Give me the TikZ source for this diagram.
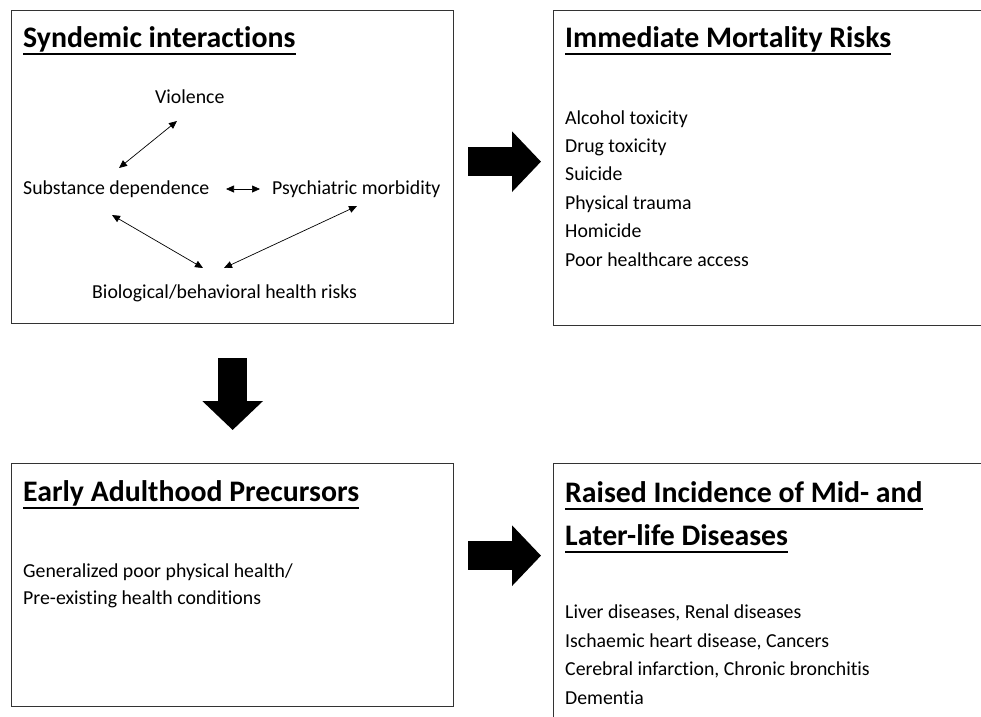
\documentclass[tikz,border=0pt]{standalone}
\usepackage{fontspec}
\setmainfont{Carlito}[Ligatures=NoCommon]
\usetikzlibrary{arrows.meta,positioning}

\begin{document}
\begin{tikzpicture}[x=1pt, y=-1pt,
    panel/.style={draw=black!80, line width=1.3pt, inner sep=0pt, anchor=north west},
    heading/.style={anchor=base west, inner sep=0pt, font=\fontsize{29.8}{34}\selectfont\bfseries},
    item/.style={anchor=base west, inner sep=0pt, font=\fontsize{19.8}{23}\selectfont},
    uline/.style={line width=2pt},
    link/.style={line width=0.7pt, {Triangle[length=8pt,width=7pt]}-{Triangle[length=8pt,width=7pt]}},
    bigarrow/.style={line width=29pt, -{Triangle[length=29pt,width=59pt]}}]
    \useasboundingbox (0,0) rectangle (981,716);
    \clip (0,0) rectangle (981,716);

    % the four panels
    \node[panel, minimum width=442pt, minimum height=313pt] (syn) at (11,10) {};
    \node[panel, minimum width=445pt, minimum height=315pt] (imm) at (553,10) {};
    \node[panel, minimum width=442pt, minimum height=243pt] (early) at (11,463) {};
    \node[panel, minimum width=445pt, minimum height=275pt] (late) at (553,463) {};

    % headings
    \node[heading] (synT) at (23,47) {Syndemic interactions};
    \node[heading] (immT) at (565,47) {Immediate Mortality Risks};
    \node[heading] (earlyT) at (23,501) {Early Adulthood Precursors};
    \node[heading] (lateT) at (565,502) {Raised Incidence of Mid- and};
    \node[heading] (lateT2) at (565,545) {Later-life Diseases};
    \foreach \t in {synT,immT,earlyT,lateT,lateT2}
        \draw[uline] ([yshift=-7pt]\t.base west) -- ([yshift=-7pt]\t.base east);

    % syndemic interactions
    \node[item] (viol) at (155,103) {Violence};
    \node[item] (subst) at (23,194) {Substance dependence};
    \node[item] (psych) at (272,194) {Psychiatric morbidity};
    \node[item] (bio) at (92,298) {Biological/behavioral health risks};
    \coordinate (v1) at (177,121);
    \coordinate (s1) at (119,168);
    \coordinate (s2) at (226,189);
    \coordinate (p1) at (260,189);
    \coordinate (s3) at (112,215);
    \coordinate (b1) at (203,268);
    \coordinate (b2) at (224,268);
    \coordinate (p2) at (357,206);
    \draw[link] (v1) -- (s1);
    \draw[link] (s2) -- (p1);
    \draw[link] (s3) -- (b1);
    \draw[link] (b2) -- (p2);

    % immediate risks
    \foreach \txt [count=\i] in {Alcohol toxicity, Drug toxicity, Suicide, Physical trauma, Homicide, Poor healthcare access}
        \node[item] (imm\i) at (565,{95.6+28.4*\i}) {\txt};

    % precursors
    \node[item] (early1) at (23,577) {Generalized poor physical health/};
    \node[item] (early2) at (23,604) {Pre-existing health conditions};

    % later-life diseases
    \node[item] (late1) at (565,618) {Liver diseases, Renal diseases};
    \node[item] (late2) at (565,647) {Ischaemic heart disease, Cancers};
    \node[item] (late3) at (565,675) {Cerebral infarction, Chronic bronchitis};
    \node[item] (late4) at (565,704) {Dementia};

    % flow between panels
    \coordinate (a1) at ([yshift=5.5pt]syn.east);
    \coordinate (a2) at ([yshift=29.5pt]early.east);
    \draw[bigarrow, shorten <=14pt, shorten >=12pt] (a1) -- (a1 -| imm.west);
    \draw[bigarrow, shorten <=34pt, shorten >=33pt] (syn.south) -- (early.north);
    \draw[bigarrow, shorten <=14pt, shorten >=12pt] (a2) -- (a2 -| late.west);
\end{tikzpicture}
\end{document}
